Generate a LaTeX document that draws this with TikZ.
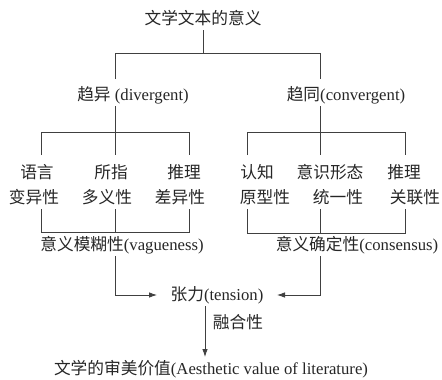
\documentclass[tikz,border=0pt]{standalone}
\usepackage{fontspec}
\setmainfont{Liberation Serif}
\newfontfamily\cjk{Noto Sans CJK SC}
\usetikzlibrary{arrows.meta}
\newcommand{\zh}[1]{{\cjk #1}}
\begin{document}
\begin{tikzpicture}[x=1pt,y=-1pt,
  lbl/.style={inner sep=0pt,anchor=center,text=black!85,font=\fontsize{16.7}{19}\selectfont},
  ln/.style={draw=black!75,line width=0.8pt},
  arr/.style={ln,-{Latex[length=8pt,width=5.5pt]}}]
\useasboundingbox (0,0) rectangle (442,380);
% texts
\node[lbl] (title) at (203,18) {\zh{文学文本的意义}};
\node[lbl] (div) at (133,95) {\zh{趋异} (divergent)};
\node[lbl] (con) at (346,95) {\zh{趋同}(convergent)};
\node[lbl] (a1) at (37,172) {\zh{语言}};
\node[lbl] (a2) at (111,172) {\zh{所指}};
\node[lbl] (a3) at (184,172) {\zh{推理}};
\node[lbl] (b1) at (34,197) {\zh{变异性}};
\node[lbl] (b2) at (107,197) {\zh{多义性}};
\node[lbl] (b3) at (180,197) {\zh{差异性}};
\node[lbl] (c1) at (257,172) {\zh{认知}};
\node[lbl] (c2) at (330,172) {\zh{意识形态}};
\node[lbl] (c3) at (404,172) {\zh{推理}};
\node[lbl] (d1) at (265,197) {\zh{原型性}};
\node[lbl] (d2) at (338,197) {\zh{统一性}};
\node[lbl] (d3) at (415,197) {\zh{关联性}};
\node[lbl] (vag) at (122,245) {\zh{意义模糊性}(vagueness)};
\node[lbl] (cons) at (357,245) {\zh{意义确定性}(consensus)};
\node[lbl] (ten) at (217,295) {\zh{张力}(tension)};
\node[lbl] (fus) at (238,322) {\zh{融合性}};
\node[lbl] (aes) at (211,369) {\zh{文学的审美价值}(Aesthetic value of literature)};
% junction coordinates
\coordinate (t0) at (203,30);
\coordinate (tj) at (203,53);
\coordinate (dl) at (115,53);
\coordinate (dr) at (320,53);
\coordinate (dle) at (115,79);
\coordinate (dre) at (320,79);
% top tree
\draw[ln] (t0) -- (tj);
\draw[ln] (dle) -- (dl) -- (dr) -- (dre);
% left group
\coordinate (L0) at (115,106);
\coordinate (L1) at (41,132);
\coordinate (L2) at (115,132);
\coordinate (L3) at (189,132);
\draw[ln] (L0) -- (L2);
\draw[ln] (41,155) -- (L1) -- (L3) -- (189,155);
\draw[ln] (L2) -- (115,155);
\coordinate (M1) at (41,232);
\coordinate (M2) at (115,232);
\coordinate (M3) at (189,232);
\draw[ln] (41,209) -- (M1) -- (M3) -- (189,209);
\draw[ln] (115,209) -- (M2);
% right group
\coordinate (R0) at (320,106);
\coordinate (R1) at (247,132);
\coordinate (R2) at (320,132);
\coordinate (R3) at (405,132);
\draw[ln] (R0) -- (R2);
\draw[ln] (247,155) -- (R1) -- (R3) -- (405,155);
\draw[ln] (R2) -- (320,155);
\coordinate (N1) at (247,233);
\coordinate (N2) at (320,233);
\coordinate (N3) at (405,233);
\draw[ln] (247,209) -- (N1) -- (N3) -- (405,209);
\draw[ln] (320,209) -- (N2);
% to tension
\coordinate (vb) at (115,256);
\coordinate (cb) at (320,256);
\coordinate (vt) at (157,295);
\coordinate (ct) at (277,295);
\draw[arr] (vb) |- (vt);
\draw[arr] (cb) |- (ct);
\coordinate (f0) at (205,306);
\coordinate (f1) at (205,357);
\draw[arr] (f0) -- (f1);
\end{tikzpicture}
\end{document}
